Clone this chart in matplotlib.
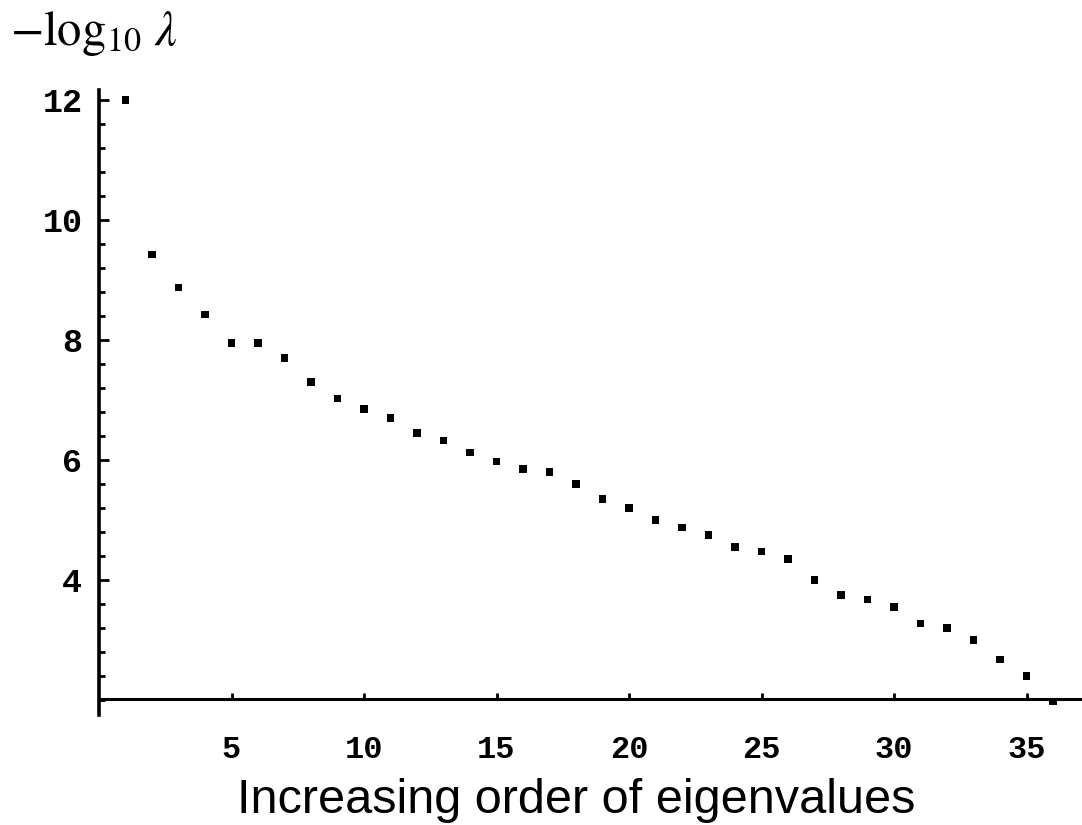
import matplotlib.pyplot as plt
from matplotlib.ticker import MultipleLocator

# eigenvalue index and -log10(lambda)
order = list(range(1, 37))
neg_log_lambda = [12.0, 9.42, 8.88, 8.43, 7.95, 7.95, 7.70, 7.30, 7.03, 6.85,
                  6.70, 6.45, 6.32, 6.12, 5.97, 5.85, 5.80, 5.60, 5.35, 5.20,
                  5.00, 4.88, 4.75, 4.55, 4.48, 4.35, 4.00, 3.75, 3.67, 3.55,
                  3.28, 3.20, 3.00, 2.68, 2.40, 1.98]
x_ticks = [5, 10, 15, 20, 25, 30, 35]
y_ticks = [4, 6, 8, 10, 12]

fig = plt.figure(figsize=(10.82, 8.25), dpi=100)
ax = fig.add_axes([99 / 1082, 1 - 720 / 825, 983 / 1082, 635 / 825])

ax.scatter(order, neg_log_lambda, marker='s', s=26, c='black', edgecolor='none',
           zorder=3, clip_on=False)

ax.set_xlim(0, 983 / 26.5)
ax.set_ylim(12 - 620 / 60, 12 + 15 / 60)

# axes drawn like the old Mathematica style: crossing lines, no box
ax.spines['top'].set_visible(False)
ax.spines['right'].set_visible(False)
ax.spines['bottom'].set_position(('data', 2.02))
ax.spines['left'].set_position(('data', 0))
ax.spines['left'].set_bounds(1.75, 12.17)
ax.spines['bottom'].set_linewidth(2.2)
ax.spines['left'].set_linewidth(2.6)

ax.set_xticks(x_ticks)
ax.set_yticks(y_ticks)
ax.yaxis.set_minor_locator(MultipleLocator(0.4))
ax.tick_params(axis='y', which='major', direction='in', length=7, width=2,
               pad=12, labelsize=24)
ax.tick_params(axis='y', which='minor', direction='in', length=4, width=2)
ax.tick_params(axis='x', which='major', direction='in', length=4, width=2,
               pad=26, labelsize=23)
for lab in ax.get_xticklabels() + ax.get_yticklabels():
    lab.set_family('Liberation Mono')
    lab.set_weight('bold')

fig.text(10 / 1082, 1 - 45 / 825, r'$-\log_{10}\,\lambda$', fontsize=35,
         math_fontfamily='stix', ha='left', va='baseline')
fig.text(576 / 1082, 1 - 813 / 825, 'Increasing order of eigenvalues',
         family='Liberation Sans', fontsize=35, ha='center', va='baseline')

plt.savefig('out.png', dpi=100)
